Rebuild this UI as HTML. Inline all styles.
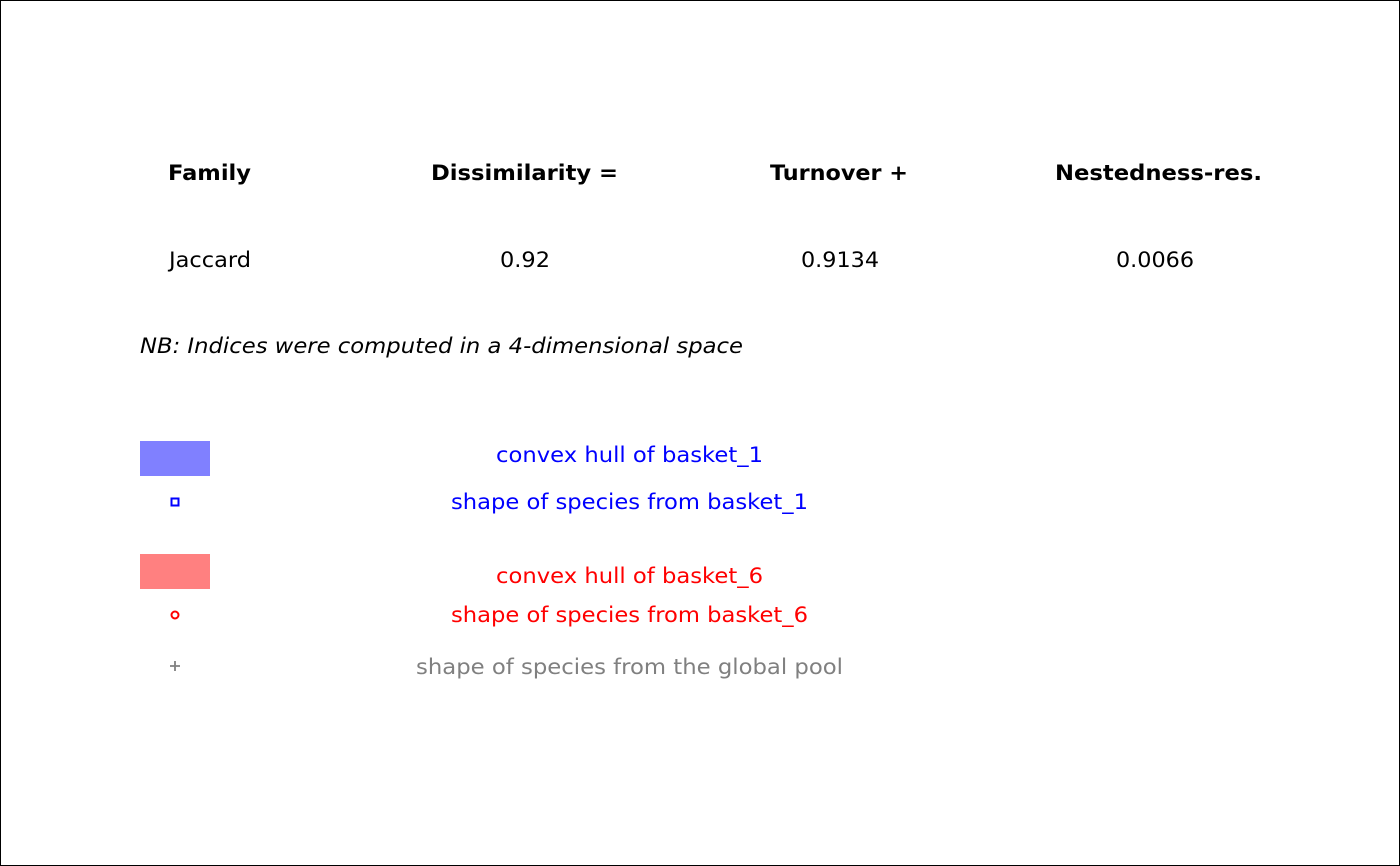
<!DOCTYPE html>
<html><head><meta charset="utf-8"><style>
html,body{margin:0;padding:0;background:#fff;}
svg{display:block;}
text{font-family:"DejaVu Sans","Liberation Sans",sans-serif;font-size:21px;}
</style></head><body>
<svg width="1400" height="866" xmlns="http://www.w3.org/2000/svg">
<rect x="0.5" y="0.5" width="1399" height="865" fill="#fff" stroke="#000" stroke-width="1"/>
<g font-weight="bold" fill="#000" text-anchor="middle">
<text x="209.5" y="180" textLength="83" lengthAdjust="spacingAndGlyphs">Family</text>
<text x="524.5" y="180" textLength="187" lengthAdjust="spacingAndGlyphs">Dissimilarity =</text>
<text x="839" y="180" textLength="138" lengthAdjust="spacingAndGlyphs">Turnover +</text>
<text x="1158.5" y="180" textLength="207" lengthAdjust="spacingAndGlyphs">Nestedness-res.</text>
</g>
<g fill="#000" text-anchor="middle">
<text x="210" y="267" textLength="82" lengthAdjust="spacingAndGlyphs">Jaccard</text>
<text x="525" y="267" textLength="50" lengthAdjust="spacingAndGlyphs">0.92</text>
<text x="840" y="267" textLength="78" lengthAdjust="spacingAndGlyphs">0.9134</text>
<text x="1155" y="267" textLength="78" lengthAdjust="spacingAndGlyphs">0.0066</text>
</g>
<text x="140" y="353" font-style="italic" fill="#000" textLength="603" lengthAdjust="spacingAndGlyphs">NB: Indices were computed in a 4-dimensional space</text>

<rect x="140" y="441" width="70" height="35" fill="#8080ff"/>
<rect x="171.5" y="498.5" width="7" height="7" fill="none" stroke="#0000ff" stroke-width="2"/>
<rect x="140" y="554" width="70" height="35" fill="#ff8080"/>
<circle cx="175" cy="615" r="3.5" fill="none" stroke="#ff0000" stroke-width="2"/>
<path d="M170 666H180M175 661V671" stroke="#808080" stroke-width="1.8"/>

<g text-anchor="middle">
<text x="629.5" y="462" fill="#0000ff" textLength="267" lengthAdjust="spacingAndGlyphs">convex hull of basket_1</text>
<text x="629.5" y="509" fill="#0000ff" textLength="357" lengthAdjust="spacingAndGlyphs">shape of species from basket_1</text>
<text x="629.5" y="583" fill="#ff0000" textLength="267" lengthAdjust="spacingAndGlyphs">convex hull of basket_6</text>
<text x="629.5" y="622" fill="#ff0000" textLength="357" lengthAdjust="spacingAndGlyphs">shape of species from basket_6</text>
<text x="629.5" y="674" fill="#808080" textLength="427" lengthAdjust="spacingAndGlyphs">shape of species from the global pool</text>
</g>
</svg>
</body></html>
